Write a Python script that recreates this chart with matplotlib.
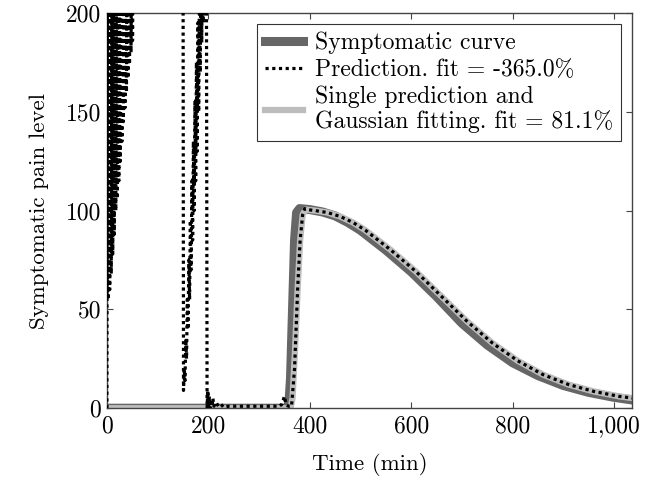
import numpy as np
import matplotlib
matplotlib.use('Agg')
import matplotlib.pyplot as plt

plt.rcParams['font.family'] = ['cmr10', 'DejaVu Serif']
plt.rcParams['axes.formatter.use_mathtext'] = True

# symptomatic curve (dark gray)
t_sym = [0, 355, 359, 362, 366, 370, 374, 380, 400, 425, 450, 475, 500, 550, 600, 650,
         700, 750, 800, 850, 900, 950, 1000, 1040]
y_sym = [0, 0, 3, 15, 50, 85, 99, 101, 100.5, 99.3, 97.3, 94, 90, 80, 69, 56.5,
         43, 32, 23, 16.5, 11.5, 8, 5.5, 4]

# single prediction + gaussian fitting (light gray)
t_single = [0, 362, 366, 371, 376, 381, 386, 392, 410, 435, 460, 485, 510, 560, 610, 660,
            710, 760, 810, 860, 910, 960, 1010, 1040]
y_single = [0, 0, 5, 30, 60, 85, 98, 100.5, 100, 99, 97, 94, 90, 80, 69, 56.5,
            44, 33, 24, 17, 12, 8.5, 6, 5]

# prediction (black dotted), values above 200 are off the chart
t_pred = [0, 1, 2.5, 4, 5.5, 7, 8.5, 10, 11.5, 13, 14.5, 16, 17.5, 19, 20.5, 22,
          23.5, 25, 26.5, 28, 29.5, 31, 32.5, 34, 35.5, 37, 38.5, 40, 41.5, 43,
          44.5, 46, 47.5, 49, 50.5, 52, 148,
          150, 151, 152.5, 154, 155.5, 157, 158.5, 160, 161.5, 163, 164.5, 166,
          167.5, 169, 170.5, 172, 173.5, 175, 176.5, 178, 179.5, 181, 182.5,
          184, 185.5, 187, 188.5, 190, 191.5, 196,
          197.5, 199, 200.5, 202, 203.5, 205, 207, 209, 211, 215, 220, 225,
          230, 240, 300, 340, 345, 350, 353, 358, 364, 370, 376, 381, 386,
          390, 395, 410, 435, 460, 485, 510, 560, 610, 660, 710, 760, 810, 860, 910,
          960, 1010, 1040]
y_pred = [0, 260, 55, 260, 60, 260, 68, 260, 78, 260, 88, 260, 100, 260, 106, 260,
          115, 260, 125, 260, 135, 260, 145, 260, 152, 260, 160, 260, 167, 260,
          174, 260, 180, 260, 186, 260, 260,
          260, 9, 20, 14, 35, 25, 55, 40, 75, 55, 95, 70,
          115, 85, 135, 100, 155, 115, 175, 130, 195, 150, 215,
          170, 235, 185, 260, 195, 260, 260,
          0, 9, 1, 6, 0, 3, 1, 5, 1, 3, 1, 2,
          0.5, 1, 1, 1, 2, 6, 2, 1, 1, 20, 60, 85, 98,
          101, 100.5, 100, 99, 97, 94, 90, 80, 69, 56.5, 44, 33, 24, 17, 12,
          8.5, 6, 5]

fig = plt.figure(figsize=(6.52, 4.78), dpi=100)
ax = fig.add_axes([0.164, 0.146, 0.805, 0.827])

ax.plot(t_sym, y_sym, color='#666666', lw=6.5, solid_joinstyle='round',
        label='Symptomatic curve')
ax.plot(t_pred, y_pred, color='black', lw=2.3, ls=(0, (1, 1.1)),
        dash_capstyle='butt', label='Prediction. fit = -365.0%', zorder=3)
ax.plot(t_single, y_single, color='#bdbdbd', lw=4.5, solid_joinstyle='round',
        label='Single prediction and\nGaussian fitting. fit = 81.1%')

ax.set_xlim(0, 1035)
ax.set_ylim(0, 200)
ax.set_xticks([0, 200, 400, 600, 800, 1000])
ax.set_xticklabels(['0', '200', '400', '600', '800', '1,000'])
ax.set_yticks([0, 50, 100, 150, 200])
ax.set_yticklabels(['0', '50', '100', '150', '200'])
ax.tick_params(direction='in', top=True, right=True, length=4, labelsize=17,
               color='#444444', pad=4)
ax.tick_params(axis='x', pad=5)
for s in ax.spines.values():
    s.set_color('#444444')
    s.set_linewidth(1.0)

ax.set_xlabel('Time (min)', fontsize=16.5, labelpad=11)
ax.set_ylabel('Symptomatic pain level', fontsize=16.5, labelpad=12)

leg = ax.legend(loc='upper right', fontsize=17, frameon=True, fancybox=False,
                handlelength=1.6, handletextpad=0.5, borderaxespad=0.45,
                labelspacing=0.2, borderpad=0.35)
leg.get_texts()[2].set_linespacing(1.1)
leg.get_frame().set_edgecolor('black')
leg.get_frame().set_linewidth(0.8)

fig.savefig('out.png', dpi=100)
